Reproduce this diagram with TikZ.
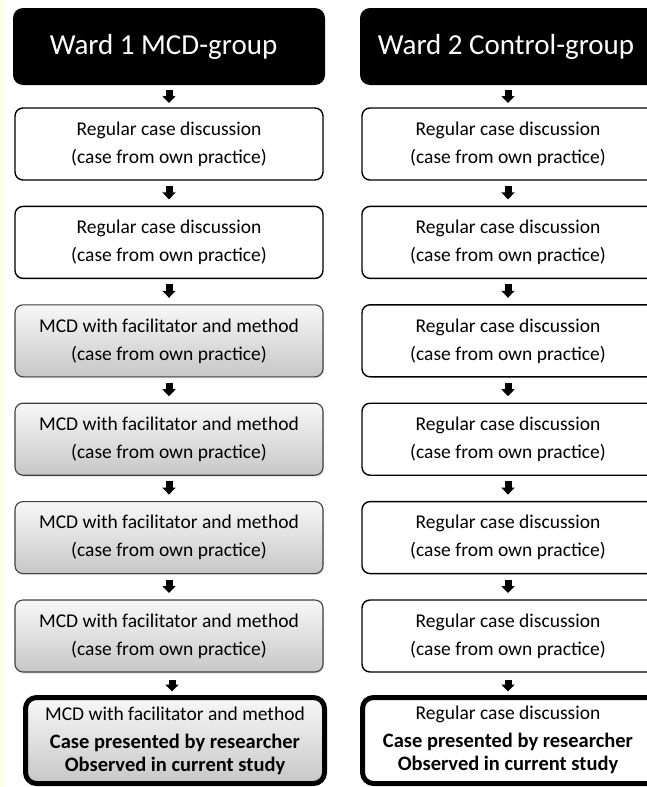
\documentclass[tikz,border=0pt]{standalone}
\usepackage{fontspec}
\setmainfont{Carlito}
\usetikzlibrary{arrows.meta,shadows}
\begin{document}
\begin{tikzpicture}[x=1pt,y=-1pt,
  header/.style={fill=black, rounded corners=10pt, text=white, font=\fontsize{29}{30}\selectfont, inner sep=0pt, outer sep=0pt, minimum height=77pt},
  plainbox/.style={draw=black, line width=1.4pt, fill=white, rounded corners=8pt, minimum height=72pt, inner sep=0pt, outer sep=0pt, align=center, font=\fontsize{19.5}{28}\selectfont},
  graybox/.style={plainbox, draw=black!75, line width=1.1pt, top color=black!3, bottom color=black!22, drop shadow={opacity=0.25, shadow xshift=1pt, shadow yshift=-1.5pt}},
  finalbox/.style={plainbox, line width=5pt, rounded corners=11pt, minimum height=86pt, font=\fontsize{19.5}{23}\selectfont},
  flowarrow/.style={line width=7pt, -{Triangle[width=13pt,length=7pt]}, shorten <=6pt, shorten >=7pt}
]
\useasboundingbox (0,0) rectangle (647,787);
\clip (0,0) rectangle (647,787);
\fill[yellow!7] (0,0) rectangle (4,787);

% headers
\node[header, minimum width=312pt] (h1) at (169,46.5) {Ward 1 MCD-group\hspace*{11pt}};
\node[header, minimum width=310pt] (h2) at (515,46.5) {Ward 2 Control-group\hspace*{18pt}};

% left column
\node[plainbox, minimum width=308pt] (l1) at (169,144) {Regular case discussion\\(case from own practice)};
\node[plainbox, minimum width=308pt] (l2) at (169,242.4) {Regular case discussion\\(case from own practice)};
\node[graybox, minimum width=308pt] (l3) at (169,340.8) {MCD with facilitator and method\\(case from own practice)};
\node[graybox, minimum width=308pt] (l4) at (169,439.2) {MCD with facilitator and method\\(case from own practice)};
\node[graybox, minimum width=308pt] (l5) at (169,537.6) {MCD with facilitator and method\\(case from own practice)};
\node[graybox, minimum width=308pt] (l6) at (169,636) {MCD with facilitator and method\\(case from own practice)};
\node[finalbox, minimum width=299pt, top color=black!3, bottom color=black!22] (l7) at (175,740.5) {MCD with facilitator and method\\[5pt]{\fontsize{20.5}{23}\selectfont\bfseries Case presented by researcher}\\{\fontsize{20.5}{23}\selectfont\bfseries Observed in current study}};

% right column (boxes run off the right edge; text kept centred at x=508)
\node[plainbox, minimum width=308pt] (r1) at (516,144) {Regular case discussion\hspace*{16pt}\\(case from own practice)\hspace*{16pt}};
\node[plainbox, minimum width=308pt] (r2) at (516,242.4) {Regular case discussion\hspace*{16pt}\\(case from own practice)\hspace*{16pt}};
\node[plainbox, minimum width=308pt] (r3) at (516,340.8) {Regular case discussion\hspace*{16pt}\\(case from own practice)\hspace*{16pt}};
\node[plainbox, minimum width=308pt] (r4) at (516,439.2) {Regular case discussion\hspace*{16pt}\\(case from own practice)\hspace*{16pt}};
\node[plainbox, minimum width=308pt] (r5) at (516,537.6) {Regular case discussion\hspace*{16pt}\\(case from own practice)\hspace*{16pt}};
\node[plainbox, minimum width=308pt] (r6) at (516,636) {Regular case discussion\hspace*{16pt}\\(case from own practice)\hspace*{16pt}};
\node[finalbox, minimum width=310pt] (r7) at (517.5,740.5) {\begin{tabular}{@{}c@{}}Regular case discussion\\[5pt]{\fontsize{20.5}{23}\selectfont\bfseries Case presented by researcher}\\{\fontsize{20.5}{23}\selectfont\bfseries Observed in current study}\end{tabular}\hspace*{19pt}};

% arrows
\draw[flowarrow, shorten <=5pt, shorten >=5pt] (h1) -- (l1);
\draw[flowarrow] (l1) -- (l2);
\draw[flowarrow] (l2) -- (l3);
\draw[flowarrow] (l3) -- (l4);
\draw[flowarrow] (l4) -- (l5);
\draw[flowarrow] (l5) -- (l6);
\draw[flowarrow, shorten <=8pt, shorten >=6pt] ([xshift=3pt]l6.south) -- ([xshift=3pt]l6.south |- l7.north);
\draw[flowarrow, shorten <=5pt, shorten >=5pt] ([xshift=-7pt]h2.south) -- ([xshift=-8pt]r1.north);
\draw[flowarrow] ([xshift=-8pt]r1.south) -- ([xshift=-8pt]r2.north);
\draw[flowarrow] ([xshift=-8pt]r2.south) -- ([xshift=-8pt]r3.north);
\draw[flowarrow] ([xshift=-8pt]r3.south) -- ([xshift=-8pt]r4.north);
\draw[flowarrow] ([xshift=-8pt]r4.south) -- ([xshift=-8pt]r5.north);
\draw[flowarrow] ([xshift=-8pt]r5.south) -- ([xshift=-8pt]r6.north);
\draw[flowarrow, shorten <=8pt, shorten >=6pt] ([xshift=-8pt]r6.south) -- ([xshift=-8pt]r6.south |- r7.north);
\end{tikzpicture}
\end{document}
